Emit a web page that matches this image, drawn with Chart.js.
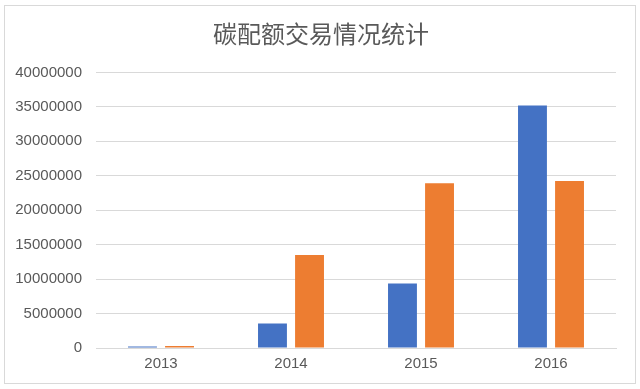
<!DOCTYPE html>
<html>
<head>
<meta charset="utf-8">
<script src="https://cdn.jsdelivr.net/npm/chart.js@4/dist/chart.umd.min.js"></script>
<style>
  html, body { margin: 0; padding: 0; background: #fff; }
  #box {
    position: absolute; left: 4px; top: 5px;
    width: 630px; height: 377px;
    border: 1px solid #d9d9d9; background: #fff;
  }
</style>
</head>
<body>
<div id="box"><canvas id="quotaChart"></canvas></div>
<script>
// 碳配额交易情况统计 — grouped bars
const years = ['2013', '2014', '2015', '2016'];
const seriesBlue = [200000, 3570000, 9360000, 35200000];
const seriesOrange = [300000, 13500000, 23900000, 24240000];
const yTicks = [0, 5000000, 10000000, 15000000, 20000000, 25000000, 30000000, 35000000, 40000000];

(function () {
  const grey = '#595959';
  const gridGrey = '#d9d9d9';
  const numFont = { family: '"Liberation Sans", Arial, sans-serif', size: 15 };

  const canvas = document.getElementById('quotaChart');
  canvas.style.width = '630px';
  canvas.style.height = '377px';

  // eslint-disable-next-line no-undef
  new Chart(canvas.getContext('2d'), {
    type: 'bar',
    data: {
      labels: years,
      datasets: [
        { label: '系列1', data: seriesBlue, backgroundColor: '#4472C4' },
        { label: '系列2', data: seriesOrange, backgroundColor: '#ED7D31' },
      ],
    },
    options: {
      responsive: false,
      animation: false,
      devicePixelRatio: 1,
      categoryPercentage: 0.57,
      barPercentage: 0.78,
      layout: { padding: { left: 2, right: 0, top: 0, bottom: 3 } },
      scales: {
        x: {
          grid: { display: false, drawTicks: false },
          border: { display: true, color: gridGrey },
          ticks: { color: grey, font: numFont, padding: 7 },
        },
        y: {
          min: 0,
          max: 40000000,
          afterBuildTicks: (scale) => {
            scale.ticks = yTicks.map((v) => ({ value: v }));
          },
          afterFit: (scale) => {
            scale.width = 89; // plot area starts at x≈96
          },
          grid: { color: gridGrey, drawTicks: false },
          border: { display: false },
          ticks: {
            color: grey,
            font: numFont,
            padding: 14,
            callback: (v) => String(v),
          },
        },
        // empty right gutter so the title stays centred on the frame
        gutter: {
          position: 'right',
          grid: { display: false, drawTicks: false },
          border: { display: false },
          ticks: { display: false },
          afterFit: (scale) => {
            scale.width = 19;
          },
        },
      },
      plugins: {
        legend: { display: false },
        tooltip: { enabled: false },
        title: {
          display: true,
          text: '碳配额交易情况统计',
          color: grey,
          font: { family: '"Noto Sans CJK SC", sans-serif', size: 24, weight: 'normal' },
          padding: { top: 13.6, bottom: 24 },
        },
      },
    },
  });
})();
</script>
</body>
</html>
